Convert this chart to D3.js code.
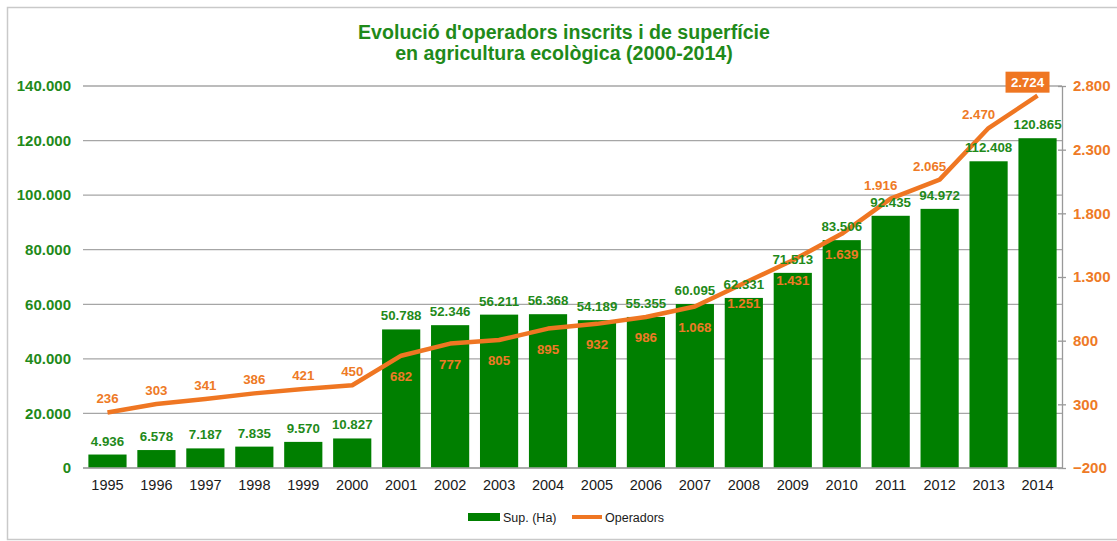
<!DOCTYPE html>
<html>
<head>
<meta charset="utf-8">
<script src="https://cdn.jsdelivr.net/npm/d3@7/dist/d3.min.js"></script>
<style>
  html, body { margin: 0; padding: 0; background: #fff; }
  svg { display: block; font-family: "Liberation Sans", Arial, sans-serif; }
</style>
</head>
<body>
<svg id="chart" width="1117" height="541"></svg>
<script>
const titleLines = ["Evolució d'operadors inscrits i de superfície", "en agricultura ecològica (2000-2014)"];
const years = ["1995","1996","1997","1998","1999","2000","2001","2002","2003","2004","2005","2006","2007","2008","2009","2010","2011","2012","2013","2014"];
const superficie = [4936, 6578, 7187, 7835, 9570, 10827, 50788, 52346, 56211, 56368, 54189, 55355, 60095, 62331, 71513, 83506, 92435, 94972, 112408, 120865];
const operadors = [236, 303, 341, 386, 421, 450, 682, 777, 805, 895, 932, 986, 1068, 1251, 1431, 1639, 1916, 2065, 2470, 2724];
const leftTicks = [0, 20000, 40000, 60000, 80000, 100000, 120000, 140000];
const rightTicks = [-200, 300, 800, 1300, 1800, 2300, 2800];
const seriesNames = ["Sup. (Ha)", "Operadors"];

const GREEN_BAR = "#007f00";
const GREEN_TXT = "#1f8a1a";
const ORANGE = "#ef7622";
const ORANGE_TXT = "#ee7a26";

const loc = d3.formatLocale({decimal: ",", thousands: ".", grouping: [3], currency: ["", ""]});
const fmt = loc.format(",d");

const svg = d3.select("#chart");

// frame
svg.append("path")
  .attr("d", "M1117,7.5H7.5V539.5H1117")
  .attr("fill", "none").attr("stroke", "#c9c9c9").attr("stroke-width", 1.5);

const x = d3.scaleBand().domain(years).range([83, 1062]).paddingInner(0.22).paddingOuter(0.11);
const yL = d3.scaleLinear().domain([0, 140000]).range([468, 86]);
const yR = d3.scaleLinear().domain([-200, 2800]).range([468, 86]);

// title
svg.append("g").selectAll("text").data(titleLines).join("text")
  .attr("x", 564).attr("y", (d, i) => 38.5 + i * 21)
  .attr("text-anchor", "middle")
  .attr("font-size", 19.6).attr("font-weight", "bold")
  .attr("fill", GREEN_TXT)
  .text(d => d);

// gridlines
svg.append("g").selectAll("line").data(leftTicks).join("line")
  .attr("x1", 83).attr("x2", 1062)
  .attr("y1", d => yL(d)).attr("y2", d => yL(d))
  .attr("stroke", "#a6a6a6").attr("stroke-width", 1.3);

// left axis
const leftAxis = d3.axisLeft(yL).tickValues(leftTicks).tickFormat(fmt).tickSize(0).tickPadding(12);
const gL = svg.append("g").attr("transform", "translate(83,0)").call(leftAxis);
gL.select(".domain").remove();
gL.selectAll("text").attr("font-size", 15).attr("font-weight", "bold").attr("fill", GREEN_TXT)
  .attr("font-family", "Liberation Sans, Arial, sans-serif");

// right axis
const rightAxis = d3.axisRight(yR).tickValues(rightTicks).tickFormat(fmt).tickSizeInner(4).tickSizeOuter(0).tickPadding(7);
const gR = svg.append("g").attr("transform", "translate(1062,0)").call(rightAxis);
gR.select(".domain").attr("stroke", "#999").attr("stroke-width", 1.3);
gR.selectAll(".tick line").attr("stroke", "#999").attr("stroke-width", 1.3).attr("x1", -4);
gR.selectAll("text").attr("font-size", 15).attr("font-weight", "bold").attr("fill", ORANGE_TXT)
  .attr("font-family", "Liberation Sans, Arial, sans-serif");

// bars
svg.append("g").selectAll("rect").data(years).join("rect")
  .attr("x", d => x(d)).attr("width", x.bandwidth())
  .attr("y", (d, i) => yL(superficie[i]))
  .attr("height", (d, i) => yL(0) - yL(superficie[i]))
  .attr("fill", GREEN_BAR);

// baseline
svg.append("line").attr("x1", 83).attr("x2", 1062).attr("y1", yL(0)).attr("y2", yL(0))
  .attr("stroke", "#a6a6a6").attr("stroke-width", 1.3);

// x axis labels
const xAxis = d3.axisBottom(x).tickSize(0).tickPadding(12);
const gX = svg.append("g").attr("transform", `translate(0,${yL(0)})`).call(xAxis);
gX.select(".domain").remove();
gX.selectAll("text").attr("font-size", 14.5).attr("fill", "#1a1a1a")
  .attr("font-family", "Liberation Sans, Arial, sans-serif");

// line
const cx = d => x(d) + x.bandwidth() / 2;
const line = d3.line().x((d, i) => cx(years[i])).y(d => yR(d));
svg.append("path").datum(operadors).attr("d", line)
  .attr("fill", "none").attr("stroke", ORANGE).attr("stroke-width", 4.5).attr("stroke-linejoin", "round");

// bar value labels
svg.append("g").selectAll("text").data(superficie).join("text")
  .attr("x", (d, i) => cx(years[i]))
  .attr("y", d => yL(d) - 9)
  .attr("text-anchor", "middle").attr("font-size", 13.3).attr("font-weight", "bold")
  .attr("fill", GREEN_TXT).text(d => fmt(d));

// operator labels
const n = operadors.length;
const opLabels = svg.append("g");
operadors.forEach((v, i) => {
  const px = cx(years[i]), py = yR(v);
  if (i === n - 1) {
    const bx = px - 10;
    const by = py - 13;
    opLabels.append("rect").attr("x", bx - 22).attr("y", by - 11).attr("width", 44).attr("height", 21)
      .attr("fill", ORANGE);
    opLabels.append("text").attr("x", bx).attr("y", by + 4.5).attr("text-anchor", "middle")
      .attr("font-size", 13.3).attr("font-weight", "bold").attr("fill", "#fff").text(fmt(v));
    return;
  }
  const below = i >= 6 && i <= 15;
  const dx = i >= 16 ? -10 : 0;
  const ty = below ? py + 25 : py - 9;
  opLabels.append("text").attr("x", px + dx).attr("y", ty).attr("text-anchor", "middle")
    .attr("font-size", 13.3).attr("font-weight", "bold").attr("fill", ORANGE_TXT).text(fmt(v));
});

// legend
const lg = svg.append("g").attr("font-size", 12.5).attr("fill", "#1a1a1a");
lg.append("rect").attr("x", 468).attr("y", 513).attr("width", 32).attr("height", 8).attr("fill", GREEN_BAR);
lg.append("text").attr("x", 503).attr("y", 521.5).text(seriesNames[0]);
lg.append("line").attr("x1", 572).attr("x2", 602).attr("y1", 517).attr("y2", 517)
  .attr("stroke", ORANGE).attr("stroke-width", 4);
lg.append("text").attr("x", 605).attr("y", 521.5).text(seriesNames[1]);
</script>
</body>
</html>
